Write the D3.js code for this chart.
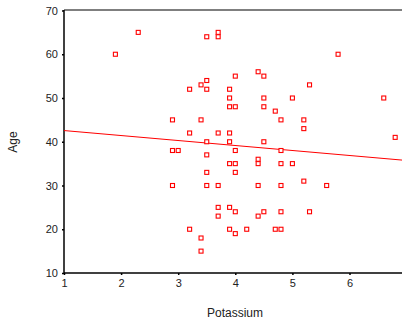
<!DOCTYPE html>
<html><head><meta charset="utf-8">
<script src="https://cdn.jsdelivr.net/npm/d3@7"></script>
<style>body{margin:0;background:#fff}svg{display:block}text{font-family:"Liberation Sans",Arial,sans-serif;fill:#222}</style>
</head><body><svg id="c" width="402" height="322"></svg>
<script>
const potassium = [1.9,2.3,3.5,3.7,3.7,4.4,4.5,4.0,3.5,3.4,3.2,3.5,3.9,3.9,4.5,3.9,4.0,4.5,5.8,5.3,5.0,6.6,
  2.9,3.4,3.2,3.7,3.9,3.5,3.9,4.5,2.9,3.0,4.0,3.5,4.4,4.4,3.9,4.0,3.5,4.0,2.9,3.5,3.7,4.4,3.7,3.9,
  4.7,4.8,5.2,5.2,6.8,4.8,4.8,5.0,5.2,4.8,5.6,
  4.0,3.7,4.4,4.5,3.2,3.9,4.0,4.2,3.4,3.4,4.8,5.3,4.7,4.8];
const age = [60,65,64,65,64,56,55,55,54,53,52,52,52,50,50,48,48,48,60,53,50,50,
  45,45,42,42,42,40,40,40,38,38,38,37,36,35,35,35,33,33,30,30,30,30,25,25,
  47,45,45,43,41,38,35,35,31,30,30,
  24,23,23,24,20,20,19,20,18,15,24,24,20,20];
const fitX = [1, 7];
const fitY = [42.56, 35.72];
const xTicks = [1,2,3,4,5,6];
const yTicks = [10,20,30,40,50,60,70];

const svg = d3.select("#c");
const x = d3.scaleLinear().domain([1,7]).range([64, 64+6*57.1]);
const y = d3.scaleLinear().domain([10,70]).range([273, 10.5]);

// top border
svg.append("line").attr("x1",64).attr("x2",402).attr("y1",10).attr("y2",10)
  .attr("stroke","#555").attr("stroke-width",1.5);

// axes
const xa = svg.append("g").attr("transform","translate(0,273)")
  .call(d3.axisBottom(x).tickValues(xTicks).tickSize(2).tickPadding(4).tickFormat(d3.format("d")));
xa.select(".domain").attr("stroke","#000").attr("stroke-width",1.5).attr("d","M64,0H402");
const ya = svg.append("g").attr("transform","translate(64,0)")
  .call(d3.axisLeft(y).tickValues(yTicks).tickSize(2).tickPadding(4).tickFormat(d3.format("d")));
ya.select(".domain").attr("stroke","#000").attr("stroke-width",1.5).attr("d","M0,10V273");
svg.selectAll(".tick line").attr("stroke","#000").attr("stroke-width",1.5);
svg.selectAll(".tick text").attr("font-size",11).style("font-family","'Liberation Sans',Arial,sans-serif").attr("fill","#222");

// regression line
svg.append("line").attr("x1",x(fitX[0])).attr("y1",y(fitY[0])).attr("x2",x(fitX[1])).attr("y2",y(fitY[1]))
  .attr("stroke","#ff0000").attr("stroke-width",1);

// points
svg.append("g").selectAll("rect").data(potassium.map((p,i)=>[p,age[i]])).join("rect")
  .attr("x",d=>x(d[0])-2).attr("y",d=>y(d[1])-2).attr("width",4).attr("height",4)
  .attr("fill","#fff").attr("stroke","#ff0000").attr("stroke-width",1.1);

// labels
svg.append("text").attr("x",235).attr("y",317).attr("text-anchor","middle").attr("font-size",12).text("Potassium");
svg.append("text").attr("transform","translate(17,142) rotate(-90)").attr("text-anchor","middle").attr("font-size",12).text("Age");
</script></body></html>
